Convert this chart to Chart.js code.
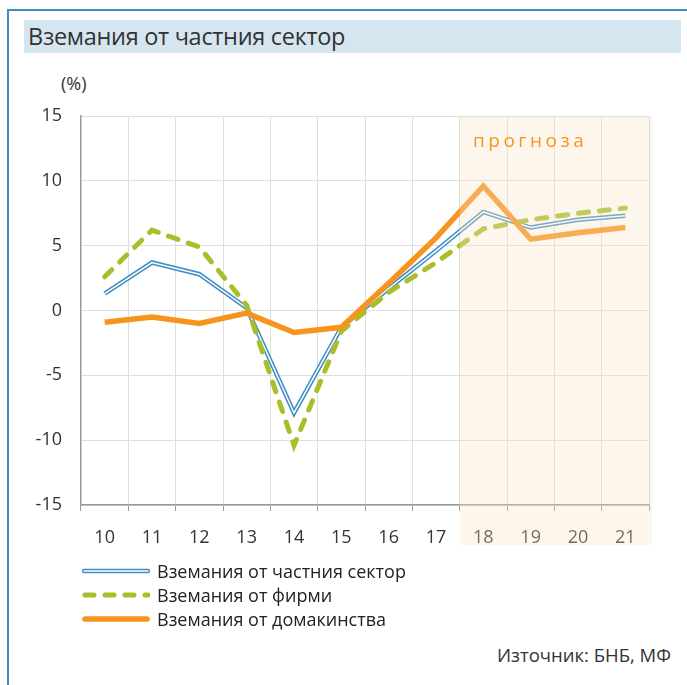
<!DOCTYPE html>
<html>
<head>
<meta charset="utf-8">
<script src="https://cdn.jsdelivr.net/npm/chart.js@4.4.0/dist/chart.umd.min.js"></script>
<style>
    body { margin: 0; background: #fff; font-family: 'Open Sans', sans-serif; }
    #page { position: relative; width: 687px; height: 685px; overflow: hidden; }
    .frame-top { position: absolute; left: 7px; top: 9px; width: 680px; height: 2px; background: #3e8ec4; }
    .frame-left { position: absolute; left: 7px; top: 9px; width: 2px; height: 676px; background: #3e8ec4; }
    .title { position: absolute; left: 24px; top: 20px; width: 657px; height: 33px; background: #d6e6f0;
        font-size: 23.5px; line-height: 33px; color: #333; padding-left: 4px; box-sizing: border-box; letter-spacing: -0.3px; }
    .unit { position: absolute; left: 61px; top: 71px; font-size: 18px; color: #333; }
    #chart-wrap { position: absolute; left: 0; top: 60px; width: 687px; height: 500px; }
    .forecast { position: absolute; left: 473px; top: 127px; font-size: 19px; color: #f7941d; letter-spacing: 3.5px; }
    .legend { position: absolute; left: 82px; top: 559px; font-size: 18px; color: #222; }
    .legend div { height: 24px; display: flex; align-items: center; }
    .legend svg { margin-right: 7px; }
    .source { position: absolute; right: 16px; top: 642px; font-size: 18.5px; color: #333; }
</style>
</head>
<body>
<div id="page">
    <div class="frame-top"></div>
    <div class="frame-left"></div>
    <div class="title">Вземания от частния сектор</div>
    <div class="unit">(%)</div>
    <div id="chart-wrap"><canvas id="chart" width="687" height="500"></canvas></div>
    <div class="forecast">прогноза</div>
    <div class="legend">
        <div><svg width="68" height="8"><line x1="2" y1="4" x2="66" y2="4" stroke="#3e8ec4" stroke-width="4.5" stroke-linecap="round"/><line x1="2" y1="4" x2="66" y2="4" stroke="#fff" stroke-width="1.6" stroke-linecap="round"/></svg>Вземания от частния сектор</div>
        <div><svg width="68" height="8"><line x1="3" y1="4" x2="66" y2="4" stroke="#a8bf2a" stroke-width="5" stroke-linecap="round" stroke-dasharray="9 11"/></svg>Вземания от фирми</div>
        <div><svg width="68" height="8"><line x1="3" y1="4" x2="65" y2="4" stroke="#f7941d" stroke-width="5.5" stroke-linecap="round"/></svg>Вземания от домакинства</div>
    </div>
    <div class="source">Източник: БНБ, МФ</div>
</div>
<script>
const years = ['10', '11', '12', '13', '14', '15', '16', '17', '18', '19', '20', '21'];
const privateSector = [1.3, 3.7, 2.8, 0.2, -7.9, -1.3, 1.7, 4.6, 7.6, 6.4, 7.0, 7.3];
const firms = [2.6, 6.2, 4.9, 0.4, -10.4, -1.6, 1.4, 3.7, 6.3, 7.0, 7.5, 7.9];
const households = [-0.9, -0.5, -1.0, -0.2, -1.7, -1.3, 2.1, 5.6, 9.6, 5.5, 6.0, 6.4];
const yTicks = [15, 10, 5, 0, -5, -10, -15];
const forecastStart = 8;

const forecastShade = {
    id: 'forecastShade',
    afterDraw(chart) {
        const { ctx, chartArea, scales } = chart;
        const x0 = (scales.x.getPixelForValue(forecastStart - 1) + scales.x.getPixelForValue(forecastStart)) / 2;
        ctx.save();
        ctx.fillStyle = 'rgba(248, 226, 200, 0.32)';
        ctx.fillRect(x0, chartArea.top, chartArea.right + 3 - x0, chartArea.bottom + 40 - chartArea.top);
        ctx.restore();
    }
};

new Chart(document.getElementById('chart'), {
    type: 'line',
    data: {
        labels: years,
        datasets: [
            {
                label: 'Вземания от домакинства',
                data: households,
                borderColor: '#f7941d',
                borderWidth: 5.5,
                order: 0
            },
            {
                label: 'Вземания от фирми',
                data: firms,
                borderColor: '#a8bf2a',
                borderWidth: 5,
                borderDash: [10, 11],
                borderCapStyle: 'round',
                order: 1
            },
            {
                label: 'inner',
                data: privateSector,
                borderColor: '#ffffff',
                borderWidth: 1.5,
                order: 2
            },
            {
                label: 'Вземания от частния сектор',
                data: privateSector,
                borderColor: '#3e8ec4',
                borderWidth: 4.5,
                order: 3
            }
        ]
    },
    options: {
        responsive: false,
        animation: false,
        events: [],
        layout: { padding: { top: 56, right: 38, left: 0, bottom: 0 } },
        elements: {
            point: { radius: 0 },
            line: { tension: 0, borderJoinStyle: 'miter' }
        },
        plugins: {
            legend: { display: false },
            tooltip: { enabled: false }
        },
        scales: {
            x: {
                offset: true,
                grid: {
                    offset: true,
                    color: '#dedede',
                    borderDash: [2, 2],
                    drawTicks: true,
                    tickLength: 6,
                    tickColor: '#999',
                    tickBorderDash: []
                },
                border: { color: '#999', width: 1.5 },
                ticks: { color: '#333', font: { family: 'Open Sans', size: 18 }, padding: 16, maxRotation: 0 },
                afterFit(scale) { scale.height = 55; }
            },
            y: {
                min: -15,
                max: 15,
                afterBuildTicks(scale) { scale.ticks = yTicks.map(v => ({ value: v })); },
                grid: { color: '#dedede', borderDash: [2, 2], drawTicks: false },
                border: { color: '#999', width: 1.5 },
                ticks: { color: '#333', font: { family: 'Open Sans', size: 18 }, padding: 19 },
                afterFit(scale) { scale.width = 81; }
            }
        }
    },
    plugins: [forecastShade]
});
</script>
</body>
</html>
